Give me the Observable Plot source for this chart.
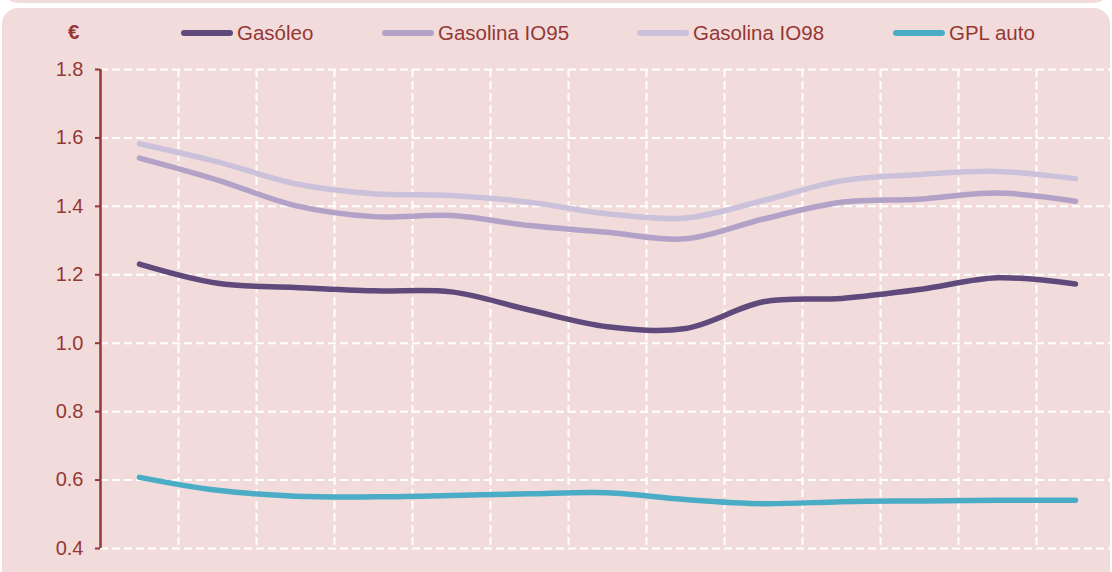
<!DOCTYPE html>
<html>
<head>
<meta charset="utf-8">
<script src="https://cdn.jsdelivr.net/npm/d3@7"></script>
<script src="https://cdn.jsdelivr.net/npm/@observablehq/plot@0.6"></script>
<style>
  html, body { margin: 0; padding: 0; background: #ffffff; }
  #page { position: relative; width: 1112px; height: 572px; overflow: hidden; font-family: "Liberation Sans", Arial, sans-serif; }
  .panel { position: absolute; background: #f2dcdb; border-radius: 16px; }
  #content { position: absolute; left: 0; top: 0; width: 1112px; }
  #legend { position: relative; height: 55px; color: #953735; font-size: 20.5px; }
  .unit { position: absolute; left: 68px; top: 20px; font-weight: bold; }
  .item { position: absolute; top: 21px; height: 24px; display: flex; align-items: center; }
  .sw { width: 52px; height: 5.5px; border-radius: 3px; margin-right: 4px; }
  #chart svg { display: block; background: transparent; }
</style>
</head>
<body>
<div id="page">
  <div class="panel" style="left:2px; top:-30px; width:1108px; height:33px;"></div>
  <div class="panel" style="left:2px; top:8px; width:1108px; height:580px;"></div>
  <div id="content">
    <div id="legend"></div>
    <div id="chart"></div>
  </div>
</div>
<script>
// Periods (no labels shown on the x axis of the original)
const periods = ["1", "2", "3", "4", "5", "6", "7", "8", "9", "10", "11", "12", "13"];
const seriesNames = ["Gasóleo", "Gasolina IO95", "Gasolina IO98", "GPL auto"];
const seriesColors = ["#604a7b", "#b3a2c7", "#ccc1da", "#4bacc6"];
const gasoleo = [1.231, 1.175, 1.163, 1.153, 1.150, 1.097, 1.048, 1.043, 1.121, 1.131, 1.157, 1.191, 1.173];
const io95    = [1.541, 1.477, 1.402, 1.370, 1.373, 1.344, 1.324, 1.305, 1.363, 1.412, 1.421, 1.439, 1.415];
const io98    = [1.583, 1.530, 1.466, 1.437, 1.432, 1.412, 1.378, 1.366, 1.417, 1.475, 1.493, 1.502, 1.481];
const gpl     = [0.608, 0.570, 0.553, 0.551, 0.555, 0.560, 0.563, 0.543, 0.531, 0.537, 0.539, 0.541, 0.541];
const yTicks = [0.4, 0.6, 0.8, 1.0, 1.2, 1.4, 1.6, 1.8];
const unitLabel = "€";

const allSeries = [gasoleo, io95, io98, gpl];
const data = [];
allSeries.forEach((vals, s) => vals.forEach((v, i) => data.push({i, period: periods[i], series: seriesNames[s], value: v})));

const textColor = "#953735";

// Legend
const legend = document.getElementById("legend");
const unit = document.createElement("div");
unit.className = "unit"; unit.textContent = unitLabel;
legend.appendChild(unit);
const legendX = [181, 382, 637, 893];
seriesNames.forEach((name, k) => {
  const it = document.createElement("div");
  it.className = "item";
  it.style.left = legendX[k] + "px";
  const sw = document.createElement("span");
  sw.className = "sw"; sw.style.background = seriesColors[k];
  const tx = document.createElement("span");
  tx.textContent = name;
  it.appendChild(sw); it.appendChild(tx);
  legend.appendChild(it);
});

const vGrid = d3.range(0.5, periods.length - 1, 1);

const chart = Plot.plot({
  width: 1112,
  height: 517,
  marginLeft: 100,
  marginRight: 0,
  marginTop: 14,
  marginBottom: 24,
  style: {background: "transparent", fontFamily: "'Liberation Sans', Arial, sans-serif", fontSize: "20px", color: textColor},
  x: {type: "linear", domain: [-0.5, periods.length - 0.5], range: [100, 1114], axis: null},
  y: {domain: [0.4, 1.8], ticks: yTicks},
  color: {domain: seriesNames, range: seriesColors},
  marks: [
    Plot.ruleY(yTicks, {stroke: "#ffffff", strokeWidth: 2, strokeDasharray: "8,4"}),
    Plot.ruleX(vGrid, {stroke: "#ffffff", strokeWidth: 2, strokeDasharray: "8,4"}),
    Plot.axisY({ticks: yTicks, tickFormat: d3.format(".1f"), tickSize: 5, tickPadding: 12, stroke: textColor, fill: textColor, strokeWidth: 2, fontSize: 20, label: null}),
    Plot.ruleX([-0.5], {y1: 0.4, y2: 1.8, stroke: textColor, strokeWidth: 2.5}),
    Plot.line(data, {x: "i", y: "value", z: "series", stroke: "series", strokeWidth: 5.5, curve: "catmull-rom", strokeLinecap: "round", strokeLinejoin: "round"})
  ]
});
document.getElementById("chart").appendChild(chart);
</script>
</body>
</html>
